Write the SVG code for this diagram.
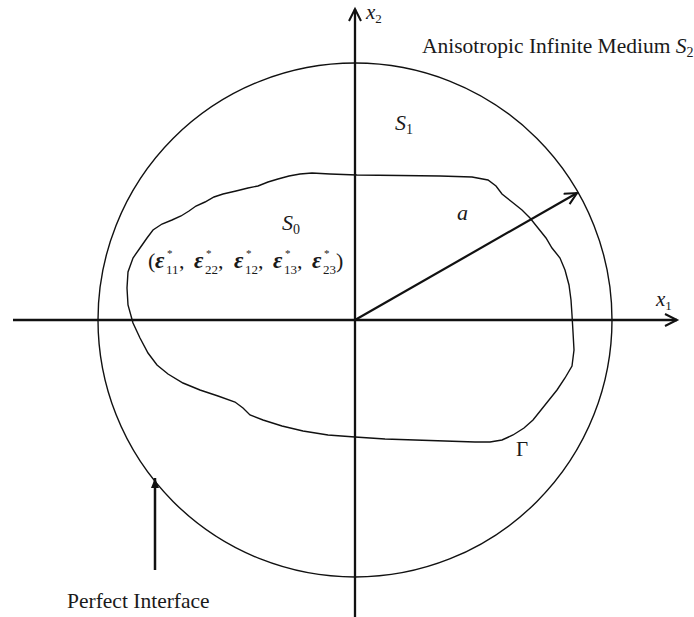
<svg xmlns="http://www.w3.org/2000/svg" width="694" height="617" viewBox="0 0 694 617">
<style>
.t{font-family:"Liberation Serif","Times New Roman",serif;fill:#1a1a1a}
.i{font-style:italic}
.ln{stroke:#111;fill:none}
.eps{font-style:italic;font-weight:bold;font-size:23px}
.st{font-size:11px}
.sb{font-size:13px}
</style>
<defs>
<marker id="open" markerWidth="20" markerHeight="20" refX="13" refY="7" orient="auto" markerUnits="userSpaceOnUse">
<path d="M1,1 L13,7 L1,13" fill="none" stroke="#111" stroke-width="2"/>
</marker>
<marker id="fill" markerWidth="14" markerHeight="12" refX="10" refY="5" orient="auto" markerUnits="userSpaceOnUse">
<path d="M0,1 L10,5 L0,9 Z" fill="#111"/>
</marker>
</defs>
<g id="medium">
<circle cx="355" cy="320" r="257" class="ln" stroke-width="1.4"/>
</g>
<g id="inclusion">
<path class="ln" stroke-width="1.4" d="M357,175 L400,175.5 L440,176 L472,177 L488,180 L496,186 L502,194 L512,202 L522,210 L530,218 L538,228 L546,238 L552,248 L560,258 L565,270 L569,285 L571,300 L572,315 L573,332 L574,350 L572,366 L565,378 L557,390 L549,400 L541,410 L533,420 L524,428 L513,435 L502,440 L490,442 L475,442 L445,441 L415,440 L385,439 L355,437 L328,435 L303,431 L282,426 L263,420 L250,415 L243,408 L235,402 L218,396 L200,390 L183,383 L168,374 L157,365 L148,353 L140,338 L133,323 L128,305 L127,288 L128,272 L133,258 L140,248 L147,238 L153,230 L162,224 L172,220 L181,216 L189,211 L196,206 L205,202 L214,197 L223,194 L236,191 L248,188 L258,186 L268,182 L278,179 L289,176 L300,174 L312,173 L330,174 L357,175 Z"/>
</g>
<g id="connectors">
<line class="ln" stroke-width="2.3" x1="355" y1="617" x2="355" y2="9" marker-end="url(#open)"/>
<line class="ln" stroke-width="2.3" x1="13" y1="320" x2="677" y2="320" marker-end="url(#open)"/>
<line class="ln" stroke-width="2.2" x1="355" y1="320" x2="577" y2="193" marker-end="url(#open)"/>
<line class="ln" stroke-width="2.5" x1="155" y1="570" x2="155" y2="478" marker-end="url(#fill)"/>
</g>
<g id="labels">
<text class="t i" x="366" y="19" font-size="21">x<tspan font-size="13" dy="4" font-style="normal">2</tspan></text>
<text class="t i" x="656" y="306" font-size="21">x<tspan font-size="13" dy="4" font-style="normal">1</tspan></text>
<text class="t" x="422" y="53" font-size="21.5">Anisotropic Infinite Medium <tspan class="i">S</tspan><tspan font-size="14" dy="4">2</tspan></text>
<text class="t i" x="395" y="130" font-size="22">S<tspan font-size="14" dy="4" font-style="normal">1</tspan></text>
<text class="t i" x="282" y="230" font-size="22">S<tspan font-size="14" dy="4" font-style="normal">0</tspan></text>
<text class="t i" x="457" y="220" font-size="22">a</text>
<text class="t" x="516" y="456" font-size="21">Γ</text>
<text class="t" x="67" y="608" font-size="21.5">Perfect Interface</text>
<text class="t" font-size="22"><tspan x="148" y="268">(</tspan><tspan class="eps" x="155" y="268">ε</tspan><tspan class="st" x="167" y="257">*</tspan><tspan class="sb" x="166" y="274">11</tspan><tspan x="179" y="268">,</tspan><tspan class="eps" x="194" y="268">ε</tspan><tspan class="st" x="206" y="257">*</tspan><tspan class="sb" x="205" y="274">22</tspan><tspan x="218" y="268">,</tspan><tspan class="eps" x="234" y="268">ε</tspan><tspan class="st" x="246" y="257">*</tspan><tspan class="sb" x="245" y="274">12</tspan><tspan x="258" y="268">,</tspan><tspan class="eps" x="273" y="268">ε</tspan><tspan class="st" x="285" y="257">*</tspan><tspan class="sb" x="284" y="274">13</tspan><tspan x="297" y="268">,</tspan><tspan class="eps" x="312" y="268">ε</tspan><tspan class="st" x="324" y="257">*</tspan><tspan class="sb" x="323" y="274">23</tspan><tspan x="336" y="268">)</tspan></text>
</g>
</svg>
